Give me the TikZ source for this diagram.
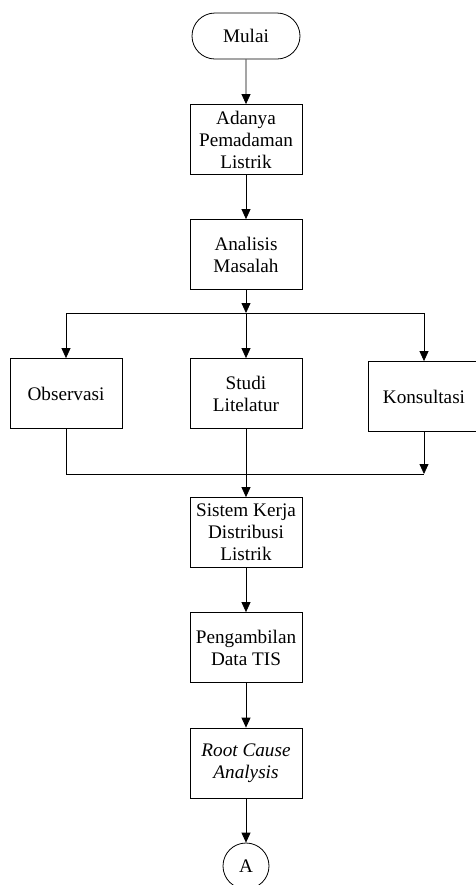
\documentclass[tikz,border=0pt]{standalone}
\usepackage{fontspec}
\setmainfont{Liberation Serif}
\usetikzlibrary{positioning}
\usetikzlibrary{arrows.meta}
\usetikzlibrary{shapes.misc}
\pgfdeclarelayer{nodelayer}
\pgfdeclarelayer{edgelayer}
\pgfsetlayers{nodelayer,edgelayer,main}
\tikzset{
    none/.style = {inner sep=0pt},
    terminal/.style = {draw, rounded rectangle, minimum width=56pt, minimum height=23pt, inner sep=1pt},
    process/.style = {draw, rectangle, minimum width=56pt, minimum height=35pt, align=center, inner sep=1pt},
    connector/.style = {draw, circle, minimum size=23pt, inner sep=0pt},
    flow/.style = {-{Triangle[width=4.5pt,length=5pt]}}
}

\begin{document}
\begin{tikzpicture}[x=0.5pt, y=0.5pt, line width=0.5pt, font=\fontsize{9.6}{11}\selectfont]
  \useasboundingbox (0, 0) rectangle (476, -885);
  \begin{pgfonlayer}{nodelayer}
    \fill [white] (0, 0) rectangle (476, -885);
    \node [style=terminal] (0) at (246, -36) {Mulai};
    \node [style=process] (1) at (246, -139.5) {Adanya\\Pemadaman\\Listrik};
    \node [style=process] (2) at (246, -254.5) {Analisis\\Masalah};
    \node [style=none] (3) at (246, -313) {};
    \node [style=none] (4) at (66, -313) {};
    \node [style=none] (5) at (424, -313) {};
    \node [style=process] (6) at (66, -393.5) {Observasi};
    \node [style=process] (7) at (246, -393.5) {Studi\\Litelatur};
    \node [style=process] (8) at (424, -396.5) {Konsultasi};
    \node [style=none] (9) at (66, -474) {};
    \node [style=none] (10) at (424, -474) {};
    \node [style=process] (11) at (246, -532.5) {Sistem Kerja\\Distribusi\\Listrik};
    \node [style=process] (12) at (246, -647.5) {Pengambilan\\Data TIS};
    \node [style=process] (13) at (246, -763) {\textit{Root Cause}\\\textit{Analysis}};
    \node [style=connector] (14) at (246, -866) {A};
  \end{pgfonlayer}
  \begin{pgfonlayer}{edgelayer}
    \draw [style=flow] (0) to (1);
    \draw [style=flow] (1) to (2);
    \draw [style=flow] (2) to (3.center);
    \draw [style=flow] (3.center) to (4.center) to (6);
    \draw [style=flow] (3.center) to (7);
    \draw [style=flow] (3.center) to (5.center) to (8);
    \draw (6) to (9.center) to (10.center);
    \draw [style=flow] (8) to (10.center);
    \draw [style=flow] (7) to (11);
    \draw [style=flow] (11) to (12);
    \draw [style=flow] (12) to (13);
    \draw [style=flow] (13) to (14);
  \end{pgfonlayer}
\end{tikzpicture}
\end{document}
